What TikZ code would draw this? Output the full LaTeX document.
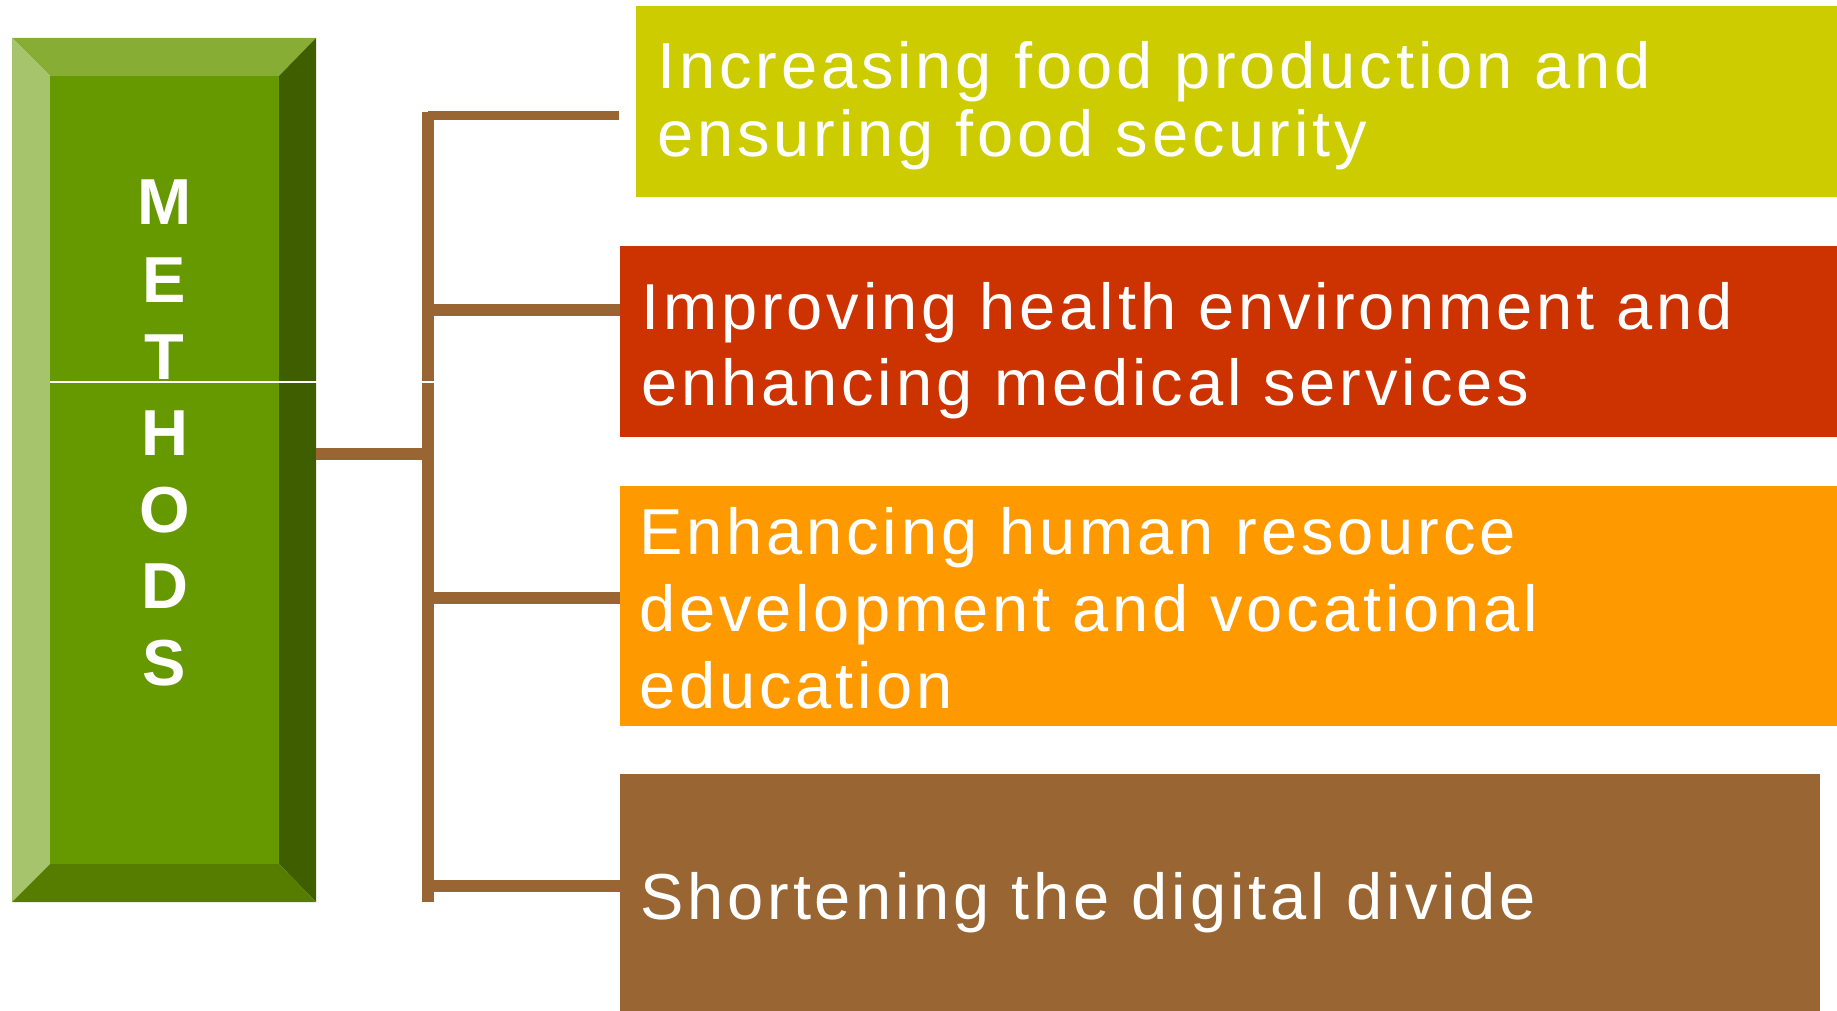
\documentclass[tikz,border=0pt]{standalone}
\usepackage{fontspec}
\setmainfont{Liberation Sans}
\newfontfamily\itemfont[LetterSpace=6]{Liberation Sans}
\definecolor{bevtop}{HTML}{87AD34}
\definecolor{bevleft}{HTML}{A6C46C}
\definecolor{bevright}{HTML}{3E5E00}
\definecolor{bevbot}{HTML}{567C00}
\definecolor{bevmid}{HTML}{669900}
\definecolor{boxyellow}{HTML}{CCCC00}
\definecolor{boxred}{HTML}{CC3300}
\definecolor{boxorange}{HTML}{FF9900}
\definecolor{boxbrown}{HTML}{996633}
\definecolor{bracketc}{HTML}{996633}
\begin{document}
\begin{tikzpicture}[x=1pt,y=-1pt,
  itembox/.style={rectangle, inner sep=0pt, outer sep=0pt, anchor=north west, draw=none},
  itemtext/.style={anchor=base west, inner sep=0pt, text=white, font=\itemfont\fontsize{65}{76}\selectfont},
  letter/.style={anchor=base, inner sep=0pt, text=white, font=\bfseries\fontsize{65}{70}\selectfont},
  bracket/.style={draw=bracketc, line width=12pt}
]
\useasboundingbox (0,0) rectangle (1837,1011);

% bevelled METHODS block
\node[itembox, minimum width=304pt, minimum height=864pt] (mbox) at (12,38) {};
\fill[bevtop] (12,38) -- (316,38) -- (279,76) -- (50,76) -- cycle;
\fill[bevleft] (12,38) -- (50,76) -- (50,864) -- (12,902) -- cycle;
\fill[bevright] (316,38) -- (316,902) -- (279,864) -- (279,76) -- cycle;
\fill[bevbot] (12,902) -- (50,864) -- (279,864) -- (316,902) -- cycle;
\node[itembox, fill=bevmid, minimum width=229pt, minimum height=788pt] (minner) at (50,76) {};

\node[letter] (l1) at (164.5,225) {M};
\node[letter] (l2) at (164.5,302) {E};
\node[letter] (l3) at (164.5,379) {T};
\node[letter] (l4) at (164.5,455) {H};
\node[letter] (l5) at (164.5,532) {O};
\node[letter] (l6) at (164.5,608) {D};
\node[letter] (l7) at (164.5,685) {S};

% coloured boxes
\node[itembox, fill=boxyellow, minimum width=1201pt, minimum height=191pt] (b1) at (636,6) {};
\node[itembox, fill=boxred, minimum width=1217pt, minimum height=191pt] (b2) at (620,246) {};
\node[itembox, fill=boxorange, minimum width=1217pt, minimum height=240pt] (b3) at (620,486) {};
\node[itembox, fill=boxbrown, minimum width=1200pt, minimum height=237pt] (b4) at (620,774) {};

% texts
\node[itemtext] (t1a) at (657,89) {Increasing food production and};
\node[itemtext] (t1b) at (657,157) {ensuring food security};
\node[itemtext] (t2a) at (641,329) {Improving health environment and};
\node[itemtext] (t2b) at (641,405) {enhancing medical services};
\node[itemtext] (t3a) at (639,554) {Enhancing human resource};
\node[itemtext] (t3b) at (639,631) {development and vocational};
\node[itemtext] (t3c) at (639,708) {education};
\node[itemtext] (t4a) at (640,919) {Shortening the digital divide};

% bracket connectors
\coordinate (btop) at (428,112);
\coordinate (bbot) at (428,902);
\coordinate (junc) at (428,454);
\coordinate (j1) at (428,116);
\coordinate (e1) at (619,116);
\coordinate (j2) at (428,310);
\coordinate (j3) at (428,598);
\coordinate (j4) at (428,886);
\draw[bracket] (btop) -- (bbot);
\draw[bracket] (mbox.east |- junc) -- (junc);
\draw[bracket, line width=9pt] (j1) -- (e1);
\draw[bracket] (j2) -- (b2.west |- j2);
\draw[bracket] (j3) -- (b3.west |- j3);
\draw[bracket] (j4) -- (b4.west |- j4);

% thin white separation line
\coordinate (wl) at (50,382);
\coordinate (wr) at (434,382);
\draw[white, line width=1.5pt] (wl) -- (wr);
\end{tikzpicture}
\end{document}
